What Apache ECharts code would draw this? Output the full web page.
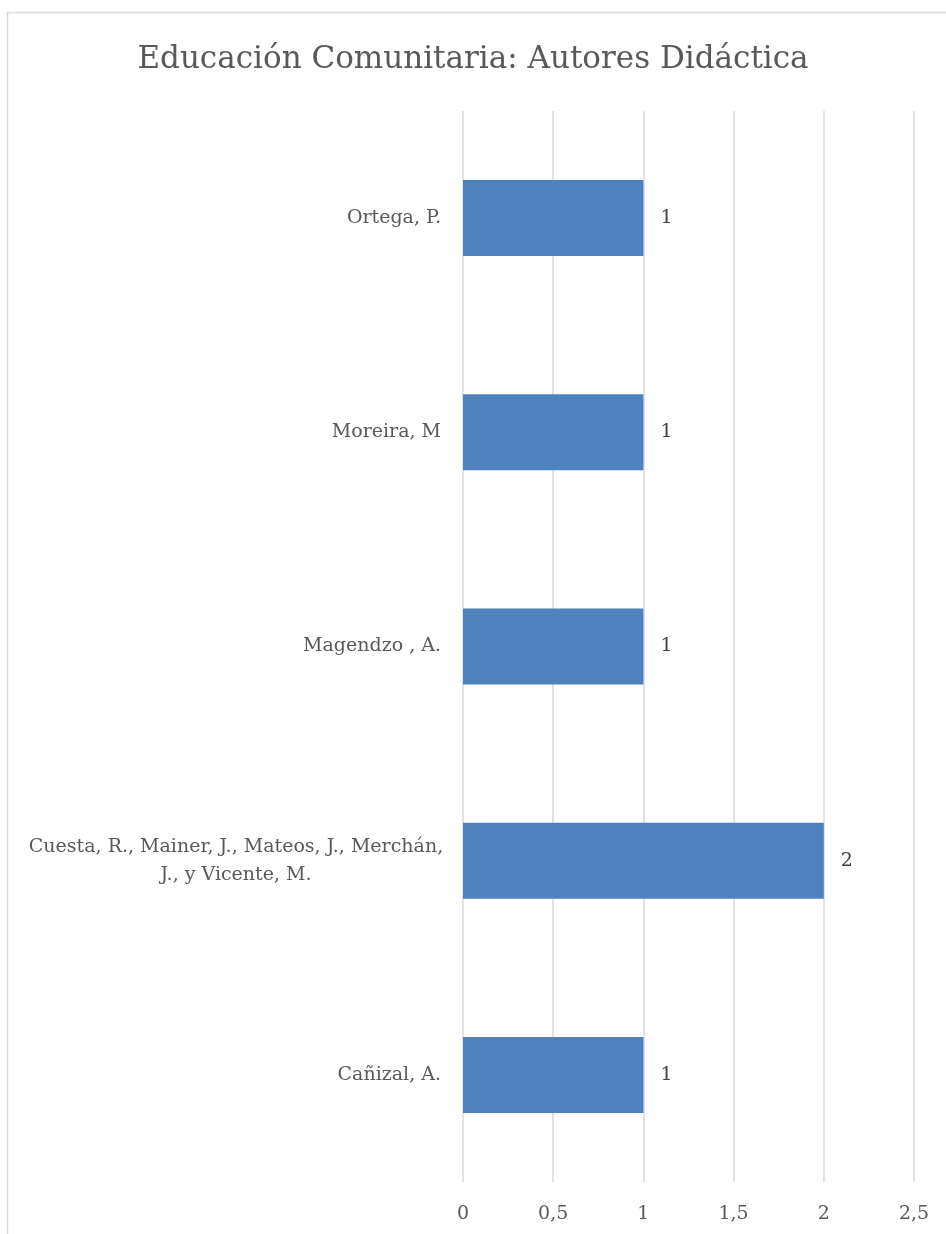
<!DOCTYPE html>
<html>
<head>
<meta charset="utf-8">
<script src="https://cdn.jsdelivr.net/npm/echarts@6/dist/echarts.min.js"></script>
<style>
  html, body { margin: 0; padding: 0; background: #ffffff; }
  #chart { width: 946px; height: 1234px; }
</style>
</head>
<body>
<div id="chart"></div>
<script>
// Authors (bottom to top on the category axis)
const authors = [
  'Cañizal, A.',
  'Cuesta, R., Mainer, J., Mateos, J., Merchán, J., y Vicente, M.',
  'Magendzo , A.',
  'Moreira, M',
  'Ortega, P.'
];
// Number of works per author
const counts = [1, 2, 1, 1, 1];
// Value axis ticks
const tickLabels = ['0', '0,5', '1', '1,5', '2', '2,5'];

const serif = '"DejaVu Serif", serif';
const textGray = '#595959';

// word-wrap a label to lines of at most maxChars characters
function wrap(text, maxChars) {
  const words = text.split(' ');
  const lines = [];
  let line = '';
  words.forEach(function (w) {
    const next = line ? line + ' ' + w : w;
    if (next.length > maxChars && line) {
      lines.push(line);
      line = w;
    } else {
      line = next;
    }
  });
  if (line) lines.push(line);
  return lines.join('\n');
}

const chart = echarts.init(document.getElementById('chart'), null, { renderer: 'canvas' });

const categoryData = authors.map(function (name) {
  if (name.length > 45) {
    // long multi-author label: lines centred on each other
    return { value: name, textStyle: { align: 'center', padding: [0, 410, 0, 0] } };
  }
  return name;
});

chart.setOption({
  animation: false,
  backgroundColor: '#ffffff',
  graphic: [{
    type: 'rect',
    silent: true,
    shape: { x: 7.5, y: 12.5, width: 960, height: 1260 },
    style: { fill: 'none', stroke: '#d9d9d9', lineWidth: 1.5 }
  }],
  title: {
    text: 'Educación Comunitaria: Autores Didáctica',
    left: 'center',
    top: 39,
    textStyle: { fontFamily: serif, fontSize: 31, fontWeight: 'normal', color: textGray }
  },
  grid: { left: 463, right: 32, top: 111, bottom: 52, containLabel: false },
  xAxis: {
    type: 'value',
    min: 0,
    max: 2.5,
    interval: 0.5,
    axisLine: { show: false },
    axisTick: { show: false },
    splitLine: { show: true, lineStyle: { color: '#d9d9d9', width: 1.5 } },
    axisLabel: {
      margin: 23,
      fontFamily: serif,
      fontSize: 19,
      color: textGray,
      formatter: function (v) {
        return tickLabels[Math.round(v / 0.5)];
      }
    }
  },
  yAxis: {
    type: 'category',
    data: categoryData,
    axisLine: { show: false },
    axisTick: { show: false },
    splitLine: { show: false },
    axisLabel: {
      margin: 22,
      fontFamily: serif,
      fontSize: 19,
      color: textGray,
      lineHeight: 28,
      interval: 0,
      formatter: function (v) { return wrap(v, 45); }
    }
  },
  series: [{
    type: 'bar',
    data: counts,
    barCategoryGap: '64.5%',
    itemStyle: { color: '#4f81bd' },
    label: {
      show: true,
      position: 'right',
      distance: 17,
      fontFamily: serif,
      fontSize: 19,
      color: '#404040'
    }
  }]
});
</script>
</body>
</html>
